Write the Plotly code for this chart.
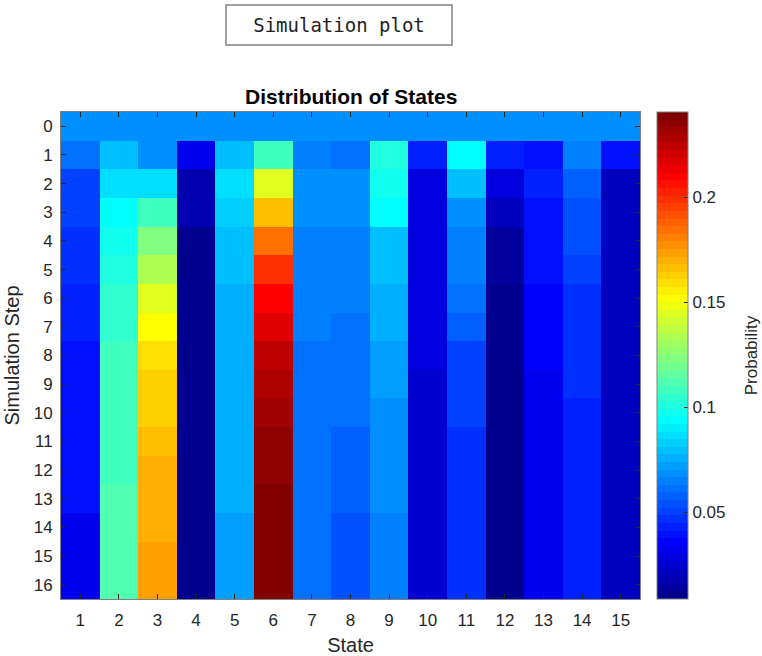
import plotly.graph_objects as go

# simulation steps (rows) and states (columns)
steps = list(range(17))
states = list(range(1, 16))

# probability of each state at every step 0..16
p_state1 = [0.0667, 0.0611, 0.0502, 0.0502, 0.0466, 0.0466, 0.0448, 0.0448, 0.0394, 0.0394, 0.0394, 0.0394, 0.0394, 0.0394, 0.0330, 0.0330, 0.0330]
p_state2 = [0.0667, 0.0810, 0.0883, 0.0937, 0.0974, 0.1010, 0.1046, 0.1046, 0.1082, 0.1082, 0.1082, 0.1082, 0.1082, 0.1119, 0.1119, 0.1119, 0.1119]
p_state3 = [0.0667, 0.0684, 0.0883, 0.1082, 0.1228, 0.1336, 0.1445, 0.1500, 0.1590, 0.1626, 0.1626, 0.1662, 0.1698, 0.1698, 0.1698, 0.1735, 0.1735]
p_state4 = [0.0667, 0.0321, 0.0177, 0.0177, 0.0104, 0.0104, 0.0104, 0.0100, 0.0100, 0.0100, 0.0100, 0.0100, 0.0100, 0.0100, 0.0100, 0.0100, 0.0100]
p_state5 = [0.0667, 0.0792, 0.0865, 0.0829, 0.0792, 0.0792, 0.0756, 0.0756, 0.0756, 0.0756, 0.0756, 0.0756, 0.0756, 0.0756, 0.0720, 0.0720, 0.0720]
p_state6 = [0.0667, 0.1082, 0.1445, 0.1662, 0.1843, 0.1988, 0.2097, 0.2170, 0.2242, 0.2278, 0.2314, 0.2351, 0.2351, 0.2387, 0.2390, 0.2400, 0.2405]
p_state7 = [0.0667, 0.0647, 0.0684, 0.0684, 0.0647, 0.0647, 0.0630, 0.0630, 0.0611, 0.0611, 0.0611, 0.0611, 0.0611, 0.0611, 0.0595, 0.0595, 0.0595]
p_state8 = [0.0667, 0.0611, 0.0684, 0.0684, 0.0647, 0.0630, 0.0630, 0.0611, 0.0595, 0.0595, 0.0595, 0.0575, 0.0575, 0.0575, 0.0557, 0.0557, 0.0557]
p_state9 = [0.0667, 0.1010, 0.0974, 0.0937, 0.0810, 0.0792, 0.0756, 0.0756, 0.0720, 0.0720, 0.0700, 0.0684, 0.0684, 0.0684, 0.0647, 0.0647, 0.0647]
p_state10 = [0.0667, 0.0430, 0.0300, 0.0285, 0.0285, 0.0290, 0.0290, 0.0290, 0.0290, 0.0249, 0.0249, 0.0249, 0.0249, 0.0249, 0.0249, 0.0249, 0.0249]
p_state11 = [0.0667, 0.0937, 0.0792, 0.0684, 0.0647, 0.0630, 0.0595, 0.0575, 0.0502, 0.0502, 0.0520, 0.0466, 0.0466, 0.0466, 0.0466, 0.0466, 0.0466]
p_state12 = [0.0667, 0.0430, 0.0285, 0.0213, 0.0140, 0.0140, 0.0104, 0.0104, 0.0104, 0.0095, 0.0095, 0.0095, 0.0095, 0.0095, 0.0095, 0.0095, 0.0095]
p_state13 = [0.0667, 0.0394, 0.0430, 0.0394, 0.0394, 0.0394, 0.0358, 0.0358, 0.0358, 0.0321, 0.0321, 0.0321, 0.0321, 0.0321, 0.0321, 0.0321, 0.0321]
p_state14 = [0.0667, 0.0647, 0.0575, 0.0539, 0.0539, 0.0520, 0.0466, 0.0466, 0.0466, 0.0466, 0.0440, 0.0440, 0.0440, 0.0440, 0.0440, 0.0440, 0.0440]
p_state15 = [0.0667, 0.0394, 0.0230, 0.0213, 0.0213, 0.0213, 0.0213, 0.0213, 0.0213, 0.0195, 0.0195, 0.0195, 0.0195, 0.0195, 0.0195, 0.0195, 0.0195]

colorbar_ticks = [0.05, 0.1, 0.15, 0.2]

columns = [p_state1, p_state2, p_state3, p_state4, p_state5, p_state6, p_state7, p_state8,
           p_state9, p_state10, p_state11, p_state12, p_state13, p_state14, p_state15]
z = [list(row) for row in zip(*columns)]


def matlab_jet(m=64):
    # same construction as MATLAB's jet.m
    n = -(-m // 4)
    u = [i / n for i in range(1, n + 1)] + [1.0] * (n - 1) + [i / n for i in range(n, 0, -1)]
    g0 = -(-n // 2) - (1 if m % 4 == 1 else 0)
    r, g, b = [0.0] * m, [0.0] * m, [0.0] * m
    for k, val in enumerate(u, start=1):
        gi = g0 + k
        ri = gi + n
        bi = gi - n
        if 1 <= ri <= m:
            r[ri - 1] = val
        if 1 <= gi <= m:
            g[gi - 1] = val
        if 1 <= bi <= m:
            b[bi - 1] = val
    return [(r[i], g[i], b[i]) for i in range(m)]


jet = matlab_jet(64)
scale = []
for i, (cr, cg, cb) in enumerate(jet):
    c = f"rgb({round(cr * 255)},{round(cg * 255)},{round(cb * 255)})"
    scale.append([i / 64, c])
    scale.append([(i + 1) / 64, c])

font = "Liberation Sans, Arial, sans-serif"
axis_col = "#262626"

fig = go.Figure()
fig.add_trace(go.Heatmap(
    x=states,
    y=steps,
    z=z,
    colorscale=scale,
    zmin=0.0086,
    zmax=0.2405,
    colorbar=dict(
        x=1.029, xanchor="left", xpad=0,
        y=0.5, yanchor="middle", len=1.0, ypad=0,
        thickness=31, thicknessmode="pixels",
        outlinecolor="#808080", outlinewidth=1,
        tickvals=colorbar_ticks,
        ticktext=["0.05", "0.1", "0.15", "0.2"],
        ticks="inside", ticklen=4, tickcolor=axis_col,
        tickfont=dict(family=font, size=17, color=axis_col),
    ),
))

fig.update_xaxes(
    range=[0.5, 15.5], tickvals=states, ticks="inside", ticklen=5,
    tickcolor=axis_col, mirror="allticks", showline=True, linecolor="#808080",
    linewidth=1, showgrid=False, zeroline=False, ticklabelstandoff=6,
    automargin=False,
    tickfont=dict(family=font, size=17, color=axis_col),
    title=dict(text="State", font=dict(family=font, size=20, color=axis_col), standoff=11),
)
fig.update_yaxes(
    range=[16.5, -0.5], tickvals=steps, ticks="inside", ticklen=5,
    tickcolor=axis_col, mirror="allticks", showline=True, linecolor="#808080",
    linewidth=1, showgrid=False, zeroline=False, ticklabelstandoff=4,
    automargin=False,
    tickfont=dict(family=font, size=17, color=axis_col),
    title=dict(text="Simulation Step", font=dict(family=font, size=20, color=axis_col), standoff=8),
)

fig.update_layout(
    width=762, height=656,
    margin=dict(l=61, r=122, t=112, b=57, autoexpand=False),
    paper_bgcolor="white", plot_bgcolor="white",
    showlegend=False,
    annotations=[
        dict(text="Distribution of States", xref="paper", yref="paper", x=0.5, y=1.0,
             yanchor="bottom", yshift=2, showarrow=False,
             font=dict(family=font, size=21, color="black", weight="bold")),
        dict(text="Probability", xref="paper", yref="paper", x=1.193, y=0.5,
             xanchor="center", yanchor="middle", textangle=-90, showarrow=False,
             font=dict(family=font, size=17, color=axis_col)),
        dict(text="Simulation plot", xref="paper", yref="paper", x=0.48, y=1.1786,
             xanchor="center", yanchor="middle", showarrow=False, width=224, height=38,
             bordercolor="#a0a0a0", borderwidth=2, borderpad=0, bgcolor="white",
             font=dict(family="DejaVu Sans Mono, monospace", size=19, color="#222222")),
    ],
)

# the page's default 8px body margin would shift the whole chart
fig.write_html("out.html", config={"displayModeBar": False},
               post_script="document.body.style.margin='0';")
